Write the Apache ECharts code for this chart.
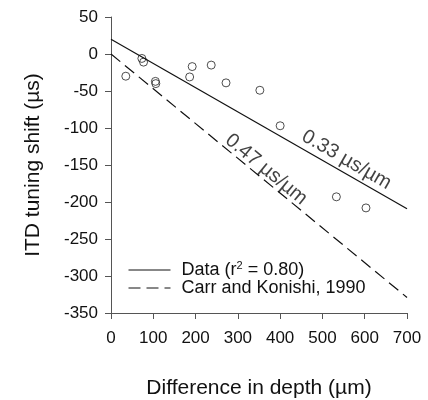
<!DOCTYPE html>
<html>
<head>
<meta charset="utf-8">
<script src="https://cdn.jsdelivr.net/npm/echarts@6/dist/echarts.min.js"></script>
<style>
html,body{margin:0;padding:0;background:#fff;}
#c{width:428px;height:400px;}
</style>
</head>
<body>
<div id="c"></div>
<script>
// Observed data points
const depthX = [35, 73, 77, 105, 106, 186, 192, 237, 272, 352, 400, 533, 603];
const shiftY = [-30, -6, -11, -37, -40, -31, -17, -15, -39, -49, -97, -193, -208];
// Regression line (Data, r^2 = 0.80)
const fitX = [0, 700];
const fitY = [20, -209];
// Carr and Konishi, 1990
const carrX = [0, 700];
const carrY = [0, -329];
// Axis ticks
const xTicks = [0, 100, 200, 300, 400, 500, 600, 700];
const yTicks = [-350, -300, -250, -200, -150, -100, -50, 0, 50];
// Slope annotations
const annText = ['0.33 \u00b5s/\u00b5m', '0.47 \u00b5s/\u00b5m'];
const annX = [557, 367];
const annY = [-143, -156];
const annRot = [30, 39.5];

const FONT = 'Liberation Sans, Arial, sans-serif';
const chart = echarts.init(document.getElementById('c'), null, {renderer: 'canvas'});
const axisCol = '#555';
chart.setOption({
  animation: false,
  backgroundColor: '#fff',
  grid: {left: 111, right: 21, top: 17, bottom: 87, containLabel: false, outerBoundsMode: 'none'},
  xAxis: {
    type: 'value', min: xTicks[0], max: xTicks[xTicks.length - 1], interval: 100,
    name: 'Difference in depth (\u00b5m)', nameLocation: 'middle', nameGap: 65,
    nameTextStyle: {fontFamily: FONT, fontSize: 21, color: '#111'},
    axisLine: {show: true, onZero: false, lineStyle: {color: axisCol, width: 1}},
    axisTick: {show: true, length: 6, inside: false, lineStyle: {color: axisCol}},
    axisLabel: {fontFamily: FONT, fontSize: 17, color: '#111', margin: 17},
    splitLine: {show: false}
  },
  yAxis: {
    type: 'value', min: yTicks[0], max: yTicks[yTicks.length - 1], interval: 50,
    name: 'ITD tuning shift (\u00b5s)', nameLocation: 'middle', nameGap: 67,
    nameTextStyle: {fontFamily: FONT, fontSize: 21, color: '#111'},
    axisLine: {show: true, onZero: false, lineStyle: {color: axisCol, width: 1}},
    axisTick: {show: true, length: 6, inside: false, lineStyle: {color: axisCol}},
    axisLabel: {fontFamily: FONT, fontSize: 17, color: '#111', margin: 13},
    splitLine: {show: false}
  },
  legend: {
    left: 128, top: 260, orient: 'vertical', padding: 0, itemWidth: 42, itemHeight: 12, itemGap: 0,
    data: ['Data', 'Carr'],
    itemStyle: {opacity: 0},
    lineStyle: {width: 1},
    formatter: function (n) { return n === 'Data' ? 'Data (r{sup|2} = 0.80)' : 'Carr and Konishi, 1990'; },
    textStyle: {fontFamily: FONT, fontSize: 18, color: '#111', padding: [0, 0, 0, 6],
      rich: {sup: {fontFamily: FONT, fontSize: 11, verticalAlign: 'top', padding: [0, 0, 9, 0], color: '#111'}}}
  },
  series: [
    {
      name: 'Data', type: 'line', data: fitX.map((x, i) => [x, fitY[i]]),
      showSymbol: false, symbol: 'none', lineStyle: {color: '#111', width: 1.2},
      itemStyle: {color: '#111'}
    },
    {
      name: 'Carr', type: 'line', data: carrX.map((x, i) => [x, carrY[i]]),
      showSymbol: false, symbol: 'none', lineStyle: {color: '#111', width: 1.2, type: [12, 6]},
      itemStyle: {color: '#111'}
    },
    {
      name: 'points', type: 'scatter', data: depthX.map((x, i) => [x, shiftY[i]]),
      symbol: 'circle', symbolSize: 8,
      itemStyle: {color: 'rgba(255,255,255,0)', borderColor: '#222', borderWidth: 1}
    },
    {
      name: 'ann', type: 'scatter', symbolSize: 0, silent: true,
      data: annX.map((x, i) => ({value: [x, annY[i]], label: {rotate: -annRot[i]}})),
      label: {
        show: true, position: 'inside',
        formatter: function (p) { return annText[p.dataIndex]; },
        fontFamily: FONT, fontSize: 20, color: '#111'
      }
    }
  ]
});
</script>
</body>
</html>
